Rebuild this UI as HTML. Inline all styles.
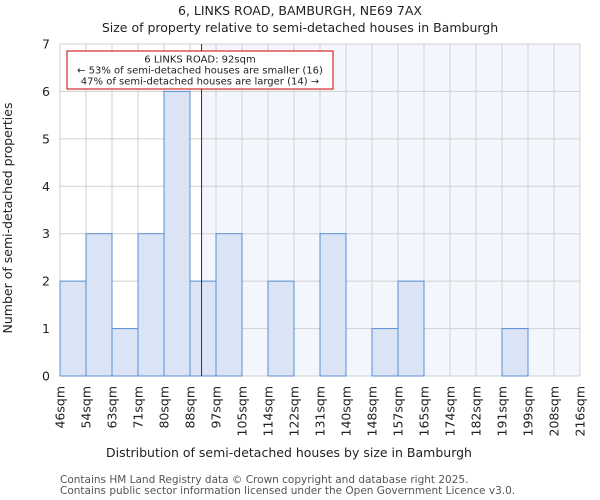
<!DOCTYPE html>
<html><head><meta charset="utf-8"><style>
body{margin:0;background:#fff;}
svg{display:block;font-family:"DejaVu Sans","Liberation Sans",sans-serif;}
</style></head><body>
<svg id="chart" width="600" height="500" viewBox="0 0 600 500">
<text x="300" y="15" text-anchor="middle" font-size="12.5" fill="#222">6, LINKS ROAD, BAMBURGH, NE69 7AX</text>
<text x="300" y="32" text-anchor="middle" font-size="12.5" fill="#222">Size of property relative to semi-detached houses in Bamburgh</text>
<g id="plot"></g>
<text x="289" y="457" text-anchor="middle" font-size="12.5" fill="#222">Distribution of semi-detached houses by size in Bamburgh</text>
<text transform="translate(12,218) rotate(-90)" text-anchor="middle" font-size="12.5" fill="#222">Number of semi-detached properties</text>
<text x="60" y="483" font-size="10.5" fill="#555">Contains HM Land Registry data © Crown copyright and database right 2025.</text>
<text x="60" y="494" font-size="10.5" fill="#555">Contains public sector information licensed under the Open Government Licence v3.0.</text>
</svg>
<script>
const binLabels=["46sqm","54sqm","63sqm","71sqm","80sqm","88sqm","97sqm","105sqm","114sqm","122sqm","131sqm","140sqm","148sqm","157sqm","165sqm","174sqm","182sqm","191sqm","199sqm","208sqm","216sqm"];
const binEdges=[46,54,63,71,80,88,97,105,114,122,131,140,148,157,165,174,182,191,199,208,216];
const counts=[2,3,1,3,6,2,3,0,2,0,3,0,1,2,0,0,0,1,0,0];
const yTicks=[0,1,2,3,4,5,6,7];
const propertySize=92;
const annotationLines=["6 LINKS ROAD: 92sqm","← 53% of semi-detached houses are smaller (16)","47% of semi-detached houses are larger (14) →"];

const X0=60,X1=580,Y0=376,Y1=44,YMAX=7;
const ns="http://www.w3.org/2000/svg";
const g=document.getElementById("plot");
const bw=(X1-X0)/counts.length;
function xi(i){return X0+i*bw;}
function xv(v){for(let i=0;i<binEdges.length-1;i++){if(v>=binEdges[i]&&v<=binEdges[i+1])return xi(i)+(v-binEdges[i])/(binEdges[i+1]-binEdges[i])*bw;}return X0;}
function y(v){return Y0-(v/YMAX)*(Y0-Y1);}
function mk(t,a){const e=document.createElementNS(ns,t);for(const k in a)e.setAttribute(k,a[k]);g.appendChild(e);return e;}
const mx=xv(propertySize);
let e;
e=mk("rect",{x:mx,y:Y1,width:X1-mx,height:Y0-Y1,fill:"#f3f6fd"});


for(let i=0;i<=counts.length;i++){e=mk("line",{x1:xi(i),x2:xi(i),y1:Y1,y2:Y0,stroke:"#d0d0d0","stroke-width":1});

}
yTicks.forEach(t=>{e=mk("line",{x1:X0,x2:X1,y1:y(t),y2:y(t),stroke:"#d0d0d0","stroke-width":1});


const tx=mk("text",{x:X0-10,y:y(t)+4.5,"text-anchor":"end","font-size":12.5,fill:"#222"});tx.textContent=t;

});
counts.forEach((c,i)=>{if(c<=0)return;e=mk("rect",{x:xi(i),y:y(c),width:bw,height:Y0-y(c),fill:"#dae4f4",stroke:"#5b8fd6","stroke-width":1});

});
binLabels.forEach((l,i)=>{const tx=mk("text",{transform:`translate(${xi(i)+4.5},386) rotate(-90)`,"text-anchor":"end","font-size":12.5,fill:"#222"});tx.textContent=l;

});
e=mk("line",{x1:mx,x2:mx,y1:Y1,y2:Y0,stroke:"#aa0000","stroke-width":1});


e=mk("rect",{x:67,y:51,width:266,height:38,fill:"#fff",stroke:"#cc0000","stroke-width":1});


annotationLines.forEach((l,i)=>{const tx=mk("text",{x:200,y:62.5+i*11,"text-anchor":"middle","font-size":10,fill:"#222"});tx.textContent=l;

});
</script>
</body></html>
